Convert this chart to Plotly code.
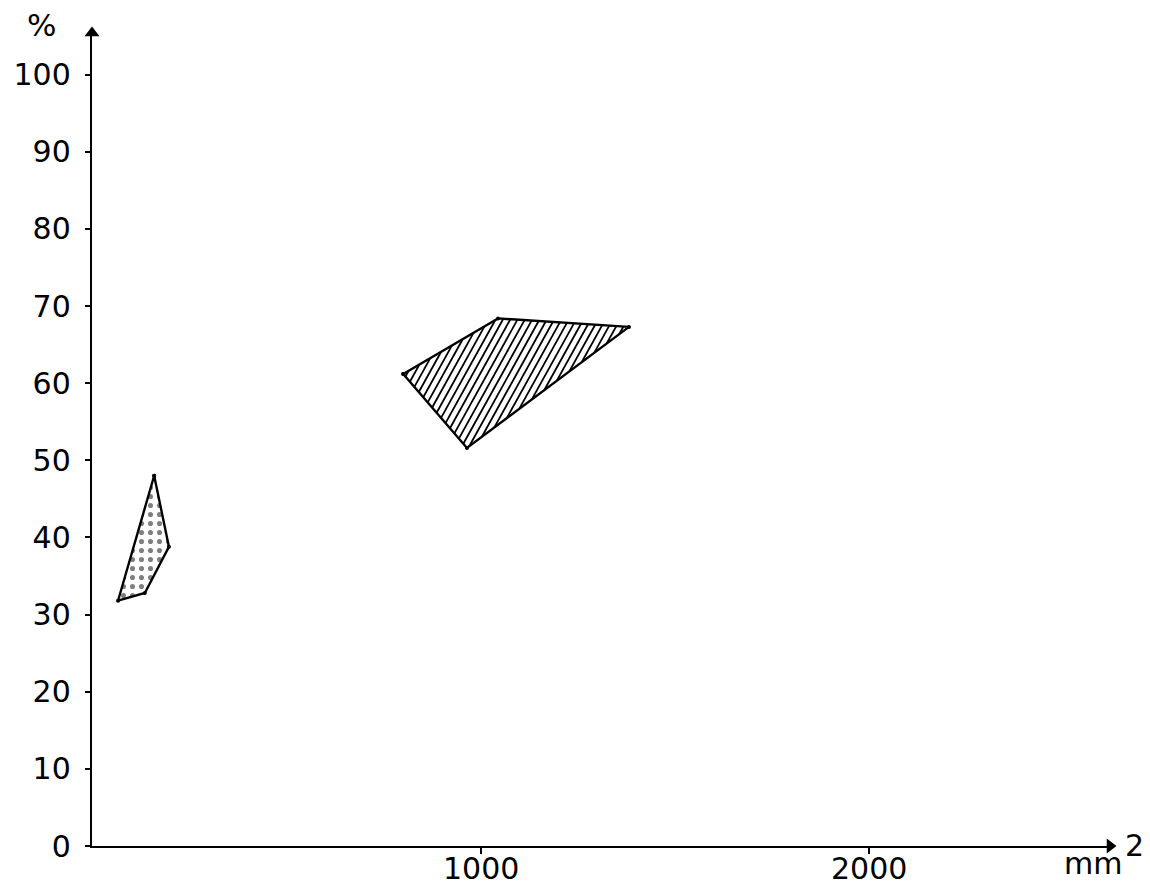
import math
import plotly.graph_objects as go

# Data
dotted_x = [160, 198, 136, 67, 160]
dotted_y = [48.0, 38.8, 32.8, 31.8, 48.0]

hatched_x = [801, 1045, 1382, 965, 801]
hatched_y = [61.2, 68.4, 67.3, 51.6, 61.2]

y_ticks = [0, 10, 20, 30, 40, 50, 60, 70, 80, 90, 100]
x_ticks = [1000, 2000]

X_MAX = 2620
Y_MAX = 105.4

FONT = "DejaVu Sans"
FS = 30

# the page adds an 8px body margin; margins compensate for it
L, R, T, B = 84, 48, 25, 46
W, H = 1150, 884
plot_w = W - L - R
plot_h = H - T - B
SX = plot_w / X_MAX
SY = plot_h / Y_MAX


def hatch_lines(xs, ys, angle_deg=61, spacing_px=6.4):
    """Hatch lines clipped to a convex polygon, computed in pixel space."""
    th = math.radians(angle_deg)
    nx, ny = math.sin(th), -math.cos(th)
    dx, dy = math.cos(th), math.sin(th)
    pts = [(x * SX, y * SY) for x, y in zip(xs, ys)]
    cs = [nx * u + ny * v for u, v in pts]
    lo, hi = min(cs), max(cs)
    out_x, out_y = [], []
    c = lo + spacing_px / 2
    while c < hi:
        hits = []
        for (u1, v1), (u2, v2) in zip(pts[:-1], pts[1:]):
            den = nx * (u2 - u1) + ny * (v2 - v1)
            if abs(den) < 1e-9:
                continue
            t = (c - (nx * u1 + ny * v1)) / den
            if 0 <= t <= 1:
                hits.append((u1 + t * (u2 - u1), v1 + t * (v2 - v1)))
        if len(hits) >= 2:
            hits.sort(key=lambda p: p[0] * dx + p[1] * dy)
            a, b = hits[0], hits[-1]
            out_x += [a[0] / SX, b[0] / SX, None]
            out_y += [a[1] / SY, b[1] / SY, None]
        c += spacing_px
    return out_x, out_y


fig = go.Figure()

fig.add_trace(go.Scatter(
    x=dotted_x, y=dotted_y, mode="lines+markers", fill="toself",
    fillcolor="white",
    fillpattern=dict(shape=".", size=9, solidity=0.25, fgcolor="black", bgcolor="white"),
    line=dict(color="black", width=2.4),
    marker=dict(size=4, color="black"),
    showlegend=False, hoverinfo="skip",
))

hx, hy = hatch_lines(hatched_x, hatched_y)
fig.add_trace(go.Scatter(
    x=hx, y=hy, mode="lines", line=dict(color="black", width=1.8),
    showlegend=False, hoverinfo="skip",
))
fig.add_trace(go.Scatter(
    x=hatched_x, y=hatched_y, mode="lines+markers",
    line=dict(color="black", width=2.4),
    marker=dict(size=4, color="black"),
    showlegend=False, hoverinfo="skip",
))

# Arrowheads at the axis ends
fig.add_trace(go.Scatter(
    x=[X_MAX], y=[0], mode="markers",
    marker=dict(symbol="triangle-right", size=13, color="black"),
    cliponaxis=False, showlegend=False, hoverinfo="skip",
))
fig.add_trace(go.Scatter(
    x=[0], y=[Y_MAX], mode="markers",
    marker=dict(symbol="triangle-up", size=13, color="black"),
    cliponaxis=False, showlegend=False, hoverinfo="skip",
))


def px_to_paper_y(py):
    return (H - B - (py - 8)) / plot_h


def px_to_paper_x(px):
    return (px - 8 - L) / plot_w


for text, (ppx, ppy), size in [("%", (41, 25), 31), ("mm", (1093, 864), FS), ("2", (1134, 845), FS)]:
    fig.add_annotation(x=px_to_paper_x(ppx), y=px_to_paper_y(ppy), xref="paper", yref="paper",
                       text=text, showarrow=False, xanchor="center", yanchor="middle",
                       font=dict(family=FONT, size=size, color="black"))

# x tick labels, placed just under the axis
for v in x_ticks:
    fig.add_annotation(x=v, y=px_to_paper_y(868), xref="x", yref="paper",
                       text=str(v), showarrow=False, xanchor="center", yanchor="middle",
                       font=dict(family=FONT, size=FS, color="black"))

fig.update_layout(
    width=W, height=H,
    margin=dict(l=L, r=R, t=T, b=B, autoexpand=False),
    paper_bgcolor="white", plot_bgcolor="white",
    xaxis=dict(range=[0, X_MAX], tickvals=x_ticks, showticklabels=False,
               showgrid=False, zeroline=False, showline=True, linecolor="black", linewidth=2.4,
               ticks="outside", ticklen=6, tickwidth=2, tickcolor="black", automargin=False),
    yaxis=dict(range=[0, Y_MAX], tickvals=y_ticks, ticktext=[str(v) for v in y_ticks],
               showgrid=False, zeroline=False, showline=True, linecolor="black", linewidth=2.4,
               ticks="outside", ticklen=5, tickwidth=2, tickcolor="black", automargin=False,
               ticklabelstandoff=8,
               tickfont=dict(family=FONT, size=FS, color="black")),
)

fig.write_html("out.html")
